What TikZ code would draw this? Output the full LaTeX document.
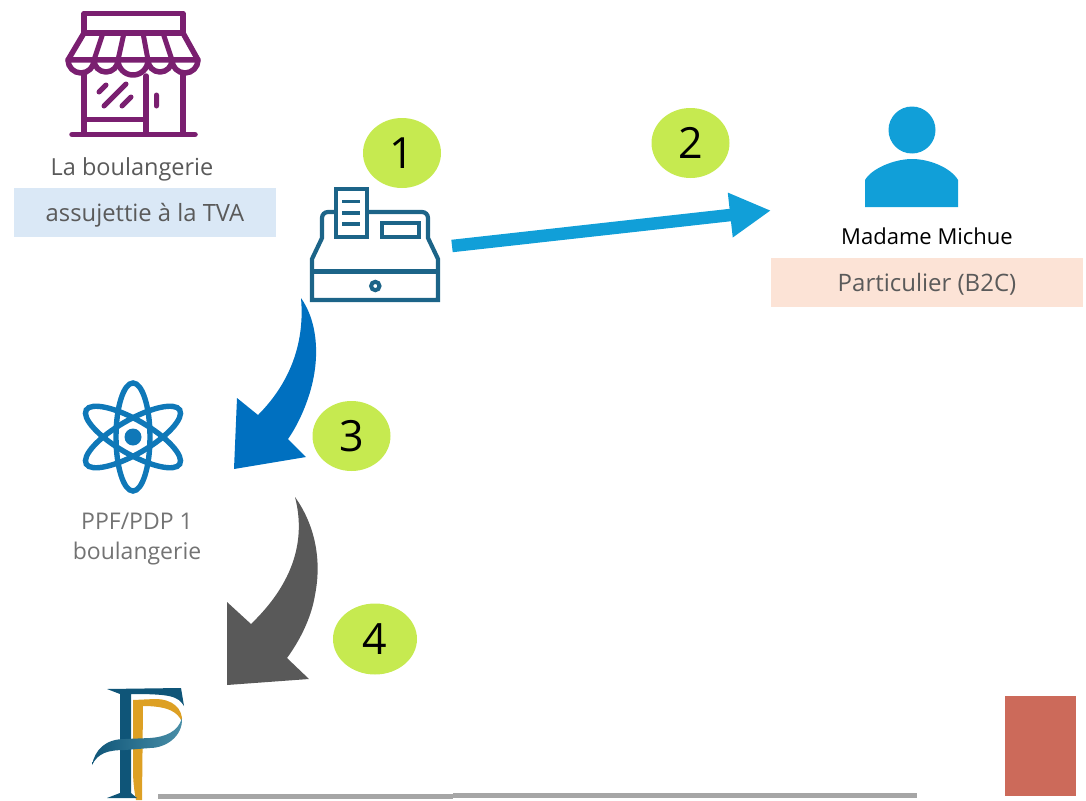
\documentclass[tikz,border=0pt]{standalone}
\usepackage{fontspec}
\setmainfont{Open Sans}
\usetikzlibrary{arrows.meta,shapes.geometric}
\definecolor{shop}{HTML}{7A1F70}
\definecolor{reg}{HTML}{1C6488}
\definecolor{lime}{HTML}{C6EA50}
\definecolor{sky}{HTML}{119FD8}
\definecolor{atom}{HTML}{0F78B8}
\definecolor{bluar}{HTML}{0070C0}
\definecolor{greyar}{HTML}{595959}
\definecolor{txt}{HTML}{5A5A5A}
\definecolor{fblue}{HTML}{0F5578}
\definecolor{fteal}{HTML}{4A8FA8}
\definecolor{fgold}{HTML}{DDA024}
\definecolor{bandblue}{HTML}{DAE8F6}
\definecolor{bandpeach}{HTML}{FCE3D6}
\definecolor{redbox}{HTML}{CC6A5A}
\definecolor{rulegrey}{HTML}{A6A6A6}
\tikzset{
  shopline/.style={draw=shop,line width=5.5pt,line cap=round,line join=round},
  regline/.style={draw=reg,line width=4.2pt,line join=miter},
  badge/.style={ellipse,fill=lime,inner sep=0pt,minimum width=78pt,minimum height=70pt,text=black,font=\fontsize{43}{43}\selectfont},
  label/.style={inner sep=0pt,text=txt,font=\fontsize{23.5}{28}\selectfont},
  atomring/.style={draw=atom,line width=5.4pt}
}
\begin{document}
\begin{tikzpicture}[x=1pt,y=-1pt]
\useasboundingbox (0,0) rectangle (1086,800);
% bands
\fill[bandblue] (14,188) rectangle (276,237);
\fill[bandpeach] (771,258) rectangle (1083,307);
\fill[redbox] (1005,696) rectangle (1076,796);
\fill[rulegrey] (158,793.5) rectangle (453,799);
\fill[rulegrey] (453,792.5) rectangle (917,797.5);
% shop
\draw[shopline] (84,13.5) rectangle (183,33);
\draw[shopline] (84,33) -- (183,33) -- (198,60) -- (68,60) -- cycle;
\draw[shopline,line width=5pt] (103,33)--(94,60) (124,33)--(118,60) (143,33)--(148,60) (163,33)--(172,60);
\draw[shopline] (68,60) arc[start angle=180,end angle=0,radius=13]
 (94,60) arc[start angle=180,end angle=0,radius=12]
 (118,60) arc[start angle=180,end angle=0,radius=15]
 (148,60) arc[start angle=180,end angle=0,radius=12]
 (172,60) arc[start angle=180,end angle=0,radius=13];
\draw[shopline] (84,74)--(84,134) (183,74)--(183,134) (146,76)--(146,134) (72,134.5)--(195,134.5) (84,119.5)--(146,119.5);
\draw[shopline,line width=5pt] (99,92)--(106,85) (104,106)--(126,84) (122,106)--(131,97) (156.5,95)--(156.5,106);
% labels
\node[label] (shopname) at (132,169) {La boulangerie};
\node[label,font=\fontsize{23.8}{28}\selectfont] (shopkind) at (145,215) {assujettie à la TVA};
\node[inner sep=0pt,text=black,font=\fontsize{22}{26}\selectfont] (mme) at (927,236) {Madame Michue};
\node[label,font=\fontsize{24}{28}\selectfont] (part) at (927,284) {Particulier (B2C)};
\node[inner sep=0pt,align=center,text=black!55,font=\fontsize{23}{30}\selectfont] (ppf) at (137,539) {PPF/PDP 1\\boulangerie};
% register
\draw[regline] (336,189) rectangle (367,237);
\draw[regline,line width=3.6pt] (342,201.5)--(360,201.5) (342,213)--(360,213) (342,224)--(360,224);
\draw[regline] (382,223) rectangle (419,237);
\draw[regline,rounded corners=6pt] (336,212) -- (322,212) -- (322,230);
\draw[regline] (322,230) -- (322,238) -- (312,259) -- (312,300) -- (438,300) -- (438,259) -- (428,238) -- (428,230);
\draw[regline,rounded corners=6pt] (428,230) -- (428,212) -- (367,212);
\draw[regline] (312,271.5)--(438,271.5);
\draw[draw=reg,line width=4pt] (375.3,286) circle (4.2);
% person
\fill[sky] (912,130) circle (23.5);
\fill[sky] (865,207) -- (865,180) .. controls (872,168) and (895,159) .. (912,159) .. controls (930,159) and (951,168) .. (958,180) -- (958,207) -- cycle;
% atom
\begin{scope}[shift={(133,437)}]
\draw[atomring] (0,0) ellipse (17 and 54);
\draw[atomring,rotate=60] (0,0) ellipse (17 and 54);
\draw[atomring,rotate=-60] (0,0) ellipse (17 and 54);
\fill[atom] (0,0) circle (8.5);
\end{scope}
% F logo
\fill[fgold] (133,700) -- (155,699) .. controls (172,699) and (183,708) .. (182,722) .. controls (178,712) and (168,706) .. (143,706) -- (142,800) -- (136,800) .. controls (134,790) and (133,780) .. (133,770) -- cycle;
\fill[fblue] (107,689) -- (181,688) -- (184,706) .. controls (178,696) and (170,694) .. (131,694) -- (131,793) -- (137,798) -- (107,798) -- (120,793) -- (120,694) -- cycle;
\shade[left color=fblue,right color=fteal] (92,765) .. controls (95,750) and (105,739) .. (125,739) -- (150,738) .. controls (165,737) and (178,732) .. (182,718) .. controls (183,737) and (165,748) .. (150,748) -- (125,750) .. controls (108,750) and (98,753) .. (92,765) -- cycle;
% connectors
\coordinate (a2s) at (452,246);
\coordinate (a2e) at (771,210.5);
\draw[sky,line width=12.5pt,-{Triangle[length=41pt,width=42pt]}] (a2s) -- (a2e);
\coordinate (a3s) at (301,298);
\coordinate (a3e) at (234,469);
\fill[bluar] (a3s) .. controls (318,322) and (322,362) .. (306,404) .. controls (300,420) and (293,432) .. (288,439) -- (306,457) -- (a3e) -- (237,398) -- (258,415) .. controls (280,393) and (306,355) .. (a3s) -- cycle;
\coordinate (a4s) at (295,497);
\coordinate (a4e) at (227,685);
\fill[greyar] (a4s) .. controls (315,525) and (322,560) .. (315,595) .. controls (311,620) and (298,643) .. (287,658) -- (309,679) -- (a4e) -- (227,602) -- (251,624) .. controls (278,598) and (310,555) .. (a4s) -- cycle;
% badges
\node[badge] (n1) at (402,153) {1};
\node[badge] (n2) at (690.5,143) {2};
\node[badge] (n3) at (351.5,436) {3};
\node[badge,minimum width=84pt,minimum height=71pt] (n4) at (375,639) {4};
\end{tikzpicture}
\end{document}
